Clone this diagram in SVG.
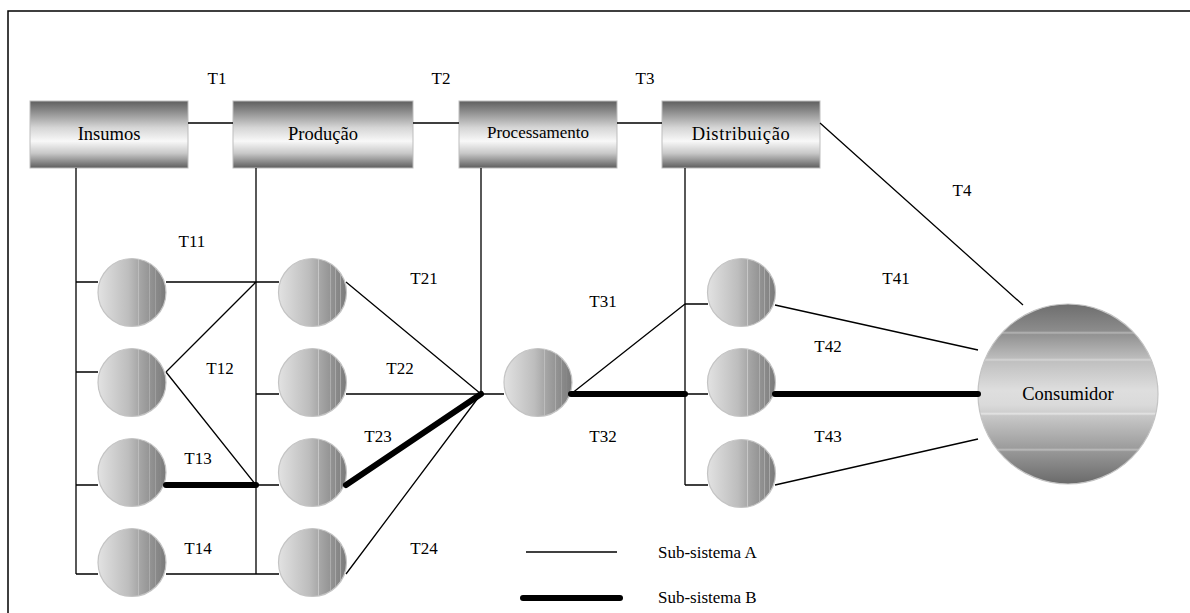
<svg xmlns="http://www.w3.org/2000/svg" width="1190" height="613" viewBox="0 0 1190 613">
<style>
.a{stroke:#000;stroke-width:1.3;fill:none}
.b{stroke:#000;stroke-width:6;stroke-linecap:round;fill:none}
.box{fill:url(#gBox);stroke:#bdbdbd;stroke-width:1}
.c{fill:url(#gCirc);stroke:#c4c4c4;stroke-width:1.2}
text{font-family:'Liberation Serif','DejaVu Serif',serif;fill:#000}
.t{font-size:17px;text-anchor:middle}
.n{font-size:18.5px;text-anchor:middle}
.lg{font-size:17px}
</style>
<defs>
<linearGradient id="gBox" x1="0" y1="0" x2="0" y2="1">
<stop offset="0" stop-color="#5e5e5e"/>
<stop offset="0.15" stop-color="#8a8a8a"/>
<stop offset="0.4" stop-color="#d6d6d6"/>
<stop offset="0.6" stop-color="#f8f8f8"/>
<stop offset="0.78" stop-color="#c8c8c8"/>
<stop offset="1" stop-color="#5e5e5e"/>
</linearGradient>
<linearGradient id="gCirc" x1="0" y1="0" x2="1" y2="0">
<stop offset="0" stop-color="#e2e2e2"/>
<stop offset="0.45" stop-color="#bdbdbd"/>
<stop offset="0.585" stop-color="#a9a9a9"/>
<stop offset="0.59" stop-color="#d8d8d8"/>
<stop offset="0.6" stop-color="#a7a7a7"/>
<stop offset="0.755" stop-color="#959595"/>
<stop offset="0.76" stop-color="#c4c4c4"/>
<stop offset="0.77" stop-color="#939393"/>
<stop offset="0.835" stop-color="#8c8c8c"/>
<stop offset="0.84" stop-color="#b8b8b8"/>
<stop offset="0.85" stop-color="#8a8a8a"/>
<stop offset="0.905" stop-color="#858585"/>
<stop offset="0.91" stop-color="#b0b0b0"/>
<stop offset="0.92" stop-color="#838383"/>
<stop offset="1" stop-color="#7a7a7a"/>
</linearGradient>
<linearGradient id="gCons" x1="0" y1="0" x2="0" y2="1">
<stop offset="0" stop-color="#6e6e6e"/>
<stop offset="0.15" stop-color="#8c8c8c"/>
<stop offset="0.16" stop-color="#b4b4b4"/>
<stop offset="0.17" stop-color="#929292"/>
<stop offset="0.3" stop-color="#bcbcbc"/>
<stop offset="0.31" stop-color="#d4d4d4"/>
<stop offset="0.32" stop-color="#c0c0c0"/>
<stop offset="0.48" stop-color="#dedede"/>
<stop offset="0.56" stop-color="#dadada"/>
<stop offset="0.6" stop-color="#cfcfcf"/>
<stop offset="0.61" stop-color="#e4e4e4"/>
<stop offset="0.62" stop-color="#c8c8c8"/>
<stop offset="0.8" stop-color="#9c9c9c"/>
<stop offset="0.81" stop-color="#bcbcbc"/>
<stop offset="0.82" stop-color="#979797"/>
<stop offset="1" stop-color="#6a6a6a"/>
</linearGradient>
</defs>
<rect x="8" y="11" width="1200" height="620" fill="#fff" stroke="#000" stroke-width="1.5"/>

<g id="nodes">
<g id="insumos"><rect class="box" x="30" y="101" width="158" height="67"/><text class="n" x="109" y="140">Insumos</text></g>
<g id="producao"><rect class="box" x="233" y="101" width="180" height="67"/><text class="n" x="323" y="140">Produção</text></g>
<g id="processamento"><rect class="box" x="459" y="101" width="158" height="67"/><text class="t" x="538" y="138" font-size="16.5">Processamento</text></g>
<g id="distribuicao"><rect class="box" x="662" y="101" width="158" height="67"/><text class="n" x="741" y="140" letter-spacing="0.6">Distribuição</text></g>
<g id="c11"><circle class="c" cx="132" cy="292.5" r="34"/></g>
<g id="c12"><circle class="c" cx="132" cy="382.5" r="34"/></g>
<g id="c13"><circle class="c" cx="132" cy="472.5" r="34"/></g>
<g id="c14"><circle class="c" cx="132" cy="562.5" r="34"/></g>
<g id="c21"><circle class="c" cx="312.5" cy="292.5" r="34"/></g>
<g id="c22"><circle class="c" cx="312.5" cy="382.5" r="34"/></g>
<g id="c23"><circle class="c" cx="312.5" cy="472.5" r="34"/></g>
<g id="c24"><circle class="c" cx="312.5" cy="562.5" r="34"/></g>
<g id="c31"><circle class="c" cx="538" cy="382.5" r="34"/></g>
<g id="c41"><circle class="c" cx="741.5" cy="292.5" r="34"/></g>
<g id="c42"><circle class="c" cx="741.5" cy="382.5" r="34"/></g>
<g id="c43"><circle class="c" cx="741.5" cy="473.5" r="34"/></g>
<g id="consumidor"><circle cx="1068" cy="394" r="90" fill="url(#gCons)" stroke="#c4c4c4" stroke-width="1.2"/><text class="n" x="1068" y="400">Consumidor</text></g>
</g>

<g id="connectors">
<path class="a" d="M188 123H233M413 123H459M617 123H662M820 123L1023 305"/>
<path class="a" d="M76 168V574M76 282H98M76 372H98M76 485H98M76 574H98"/>
<path class="a" d="M166 282H256M166 372L256 282M166 372L256 485M166 574H279"/>
<path class="a" d="M256 168V574M256 282H279M256 394H279M256 485H279"/>
<path class="a" d="M346 282L481 394M346 394H481M346 574L481 394"/>
<path class="a" d="M481 168V394M481 394H504M571 394L685 304"/>
<path class="a" d="M685 168V485M685 304H708M685 394H708M685 485H708"/>
<path class="a" d="M775 305L978 350M775 485L978 439"/>
<path class="b" d="M166 485H256M346 485L481 394M571 394H685M775 394H978"/>
</g>

<g id="labels">
<text class="t" x="217" y="84">T1</text>
<text class="t" x="441" y="84">T2</text>
<text class="t" x="645" y="84">T3</text>
<text class="t" x="962" y="196">T4</text>
<text class="t" x="192" y="247">T11</text>
<text class="t" x="220" y="374">T12</text>
<text class="t" x="198" y="464">T13</text>
<text class="t" x="198" y="554">T14</text>
<text class="t" x="424" y="284">T21</text>
<text class="t" x="400" y="374">T22</text>
<text class="t" x="378" y="442">T23</text>
<text class="t" x="424" y="554">T24</text>
<text class="t" x="603" y="307">T31</text>
<text class="t" x="603" y="442">T32</text>
<text class="t" x="896" y="284">T41</text>
<text class="t" x="828" y="352">T42</text>
<text class="t" x="828" y="442">T43</text>
</g>

<g id="legend">
<path class="a" d="M526 552H617"/>
<path class="b" d="M523 598H620"/>
<text class="lg" x="658" y="558">Sub-sistema A</text>
<text class="lg" x="658" y="603">Sub-sistema B</text>
</g>
</svg>
